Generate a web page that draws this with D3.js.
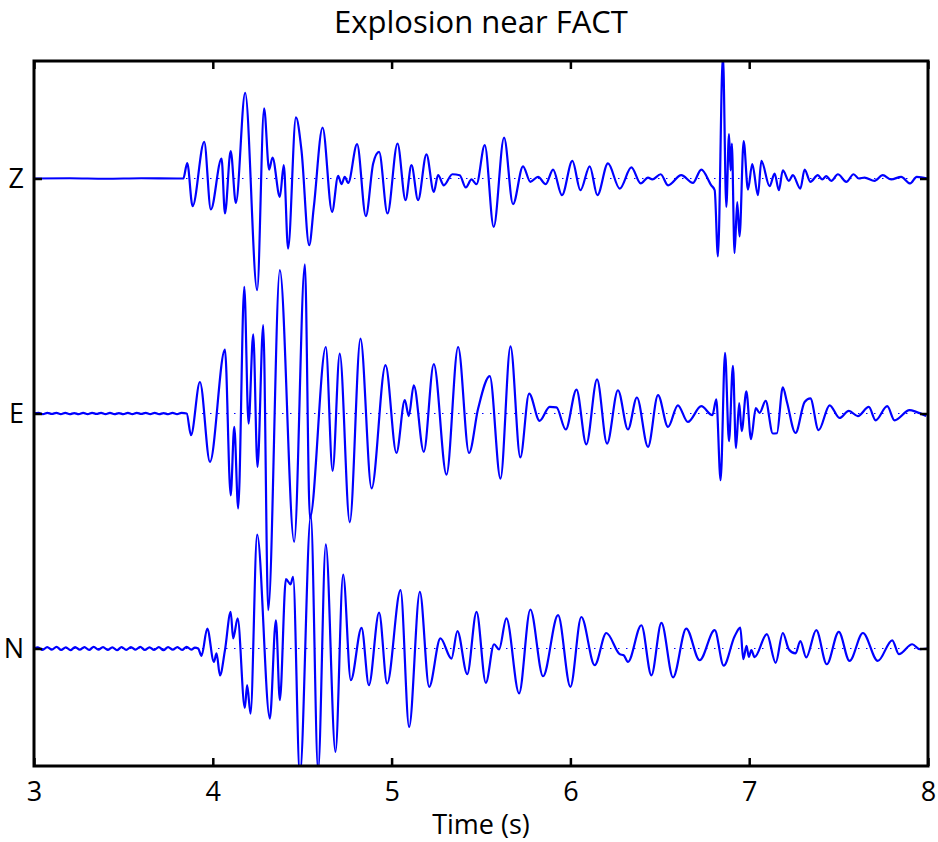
<!DOCTYPE html>
<html>
<head>
<meta charset="utf-8">
<script src="https://cdn.jsdelivr.net/npm/d3@7"></script>
<style>
  body { margin: 0; background: #fff; }
  svg { display: block; font-family: "Open Sans", sans-serif; }
</style>
</head>
<body>
<svg id="chart" width="938" height="842"></svg>
<script>
// channels, top to bottom, and where their zero lines sit
const channels = ["Z", "E", "N"];
const channelOffsets = [200, 100, 0];
const timeTicks = [3, 4, 5, 6, 7, 8];

// traces: [time (s), amplitude] (1 unit = 1/100 of trace spacing)
const zTrace = [[3.000,0],[3.200,0.1],[3.400,-0.1],[3.600,0.1],[3.800,0],[3.835,0],[3.857,6.6],[3.887,-11.8],[3.952,15.6],[3.989,-13.2],[4.049,8.5],[4.068,-14.9],[4.100,11.7],[4.129,-10.4],[4.181,36.4],[4.248,-47.5],[4.287,29.8],[4.315,3.8],[4.334,8.9],[4.375,-7.8],[4.397,5.7],[4.421,-29.8],[4.465,26.0],[4.496,12.0],[4.539,-28.4],[4.565,-12.1],[4.614,21.7],[4.667,-14.2],[4.701,1.1],[4.720,-2.4],[4.738,0.7],[4.757,-1.9],[4.807,14.6],[4.856,-16.0],[4.897,6.4],[4.930,11.3],[4.977,-14.9],[5.033,14.9],[5.078,-9.2],[5.111,5.7],[5.148,-9.2],[5.195,10.3],[5.236,-5.7],[5.260,1.4],[5.292,-2.9],[5.340,1.8],[5.381,1.4],[5.415,-3.8],[5.447,-0.4],[5.475,-2.4],[5.521,14.2],[5.571,-20.6],[5.629,17.4],[5.679,-10.9],[5.735,5.2],[5.776,-1.4],[5.819,0.7],[5.862,-2.4],[5.903,3.8],[5.953,-7.1],[6.011,7.5],[6.056,-5.0],[6.108,5.2],[6.151,-7.1],[6.210,6.4],[6.276,-4.3],[6.341,4.7],[6.393,-2.1],[6.434,0.4],[6.458,-0.4],[6.505,1.8],[6.546,-2.9],[6.620,1.4],[6.685,-1.9],[6.732,3.8],[6.788,-2.9],[6.807,-5.0],[6.825,-33.1],[6.853,52.5],[6.872,-12.1],[6.887,18.9],[6.896,3.5],[6.903,14.9],[6.918,-31.7],[6.933,-10.0],[6.946,-24.6],[6.969,15.9],[6.993,-4.7],[7.017,6.1],[7.049,-7.1],[7.068,7.5],[7.114,-3.3],[7.142,2.1],[7.166,-5.0],[7.188,3.5],[7.222,-1.0],[7.244,1.4],[7.286,-4.3],[7.310,3.8],[7.342,-1.4],[7.384,1.4],[7.409,-0.4],[7.431,1.0],[7.459,-1.0],[7.496,1.8],[7.543,-1.4],[7.584,1.8],[7.613,0],[7.645,0.4],[7.701,-1.0],[7.747,1.4],[7.794,-0.4],[7.850,0.7],[7.900,-2.1],[7.937,0.7],[7.997,0]];

const eTrace = [[3.000,0],[3.025,0.3],[3.050,-0.3],[3.075,0.3],[3.100,-0.2],[3.125,0.3],[3.150,-0.3],[3.175,0.3],[3.200,-0.3],[3.225,0.2],[3.250,-0.3],[3.275,0.3],[3.300,-0.3],[3.325,0.3],[3.350,-0.2],[3.375,0.3],[3.400,-0.3],[3.425,0.3],[3.450,-0.3],[3.475,0.2],[3.500,-0.3],[3.525,0.3],[3.550,-0.3],[3.575,0.3],[3.600,-0.2],[3.625,0.3],[3.650,-0.3],[3.675,0.3],[3.700,-0.3],[3.725,0.2],[3.750,-0.3],[3.775,0.3],[3.800,-0.3],[3.825,0.3],[3.854,0],[3.878,-9.2],[3.928,13.4],[3.984,-20.6],[4.068,27.2],[4.100,-34.8],[4.120,-5.7],[4.142,-40.4],[4.176,53.9],[4.200,-4.3],[4.226,33.7],[4.250,-22.7],[4.282,37.6],[4.310,-83.7],[4.375,61.0],[4.455,-54.6],[4.515,63.5],[4.543,-44.6],[4.632,28.3],[4.670,-24.4],[4.710,25.5],[4.766,-46.3],[4.826,31.9],[4.888,-31.9],[4.966,20.6],[5.027,-16.8],[5.074,5.7],[5.096,-1.1],[5.124,12.0],[5.180,-16.3],[5.236,21.0],[5.307,-26.0],[5.372,28.3],[5.433,-16.8],[5.484,2.1],[5.549,15.9],[5.609,-27.7],[5.665,28.6],[5.720,-18.7],[5.769,8.5],[5.828,-3.1],[5.884,2.8],[5.922,2.6],[5.974,-6.8],[6.034,10.2],[6.089,-13.1],[6.149,14.5],[6.205,-12.8],[6.266,9.9],[6.322,-6.8],[6.372,6.8],[6.434,-14.2],[6.490,7.8],[6.546,-5.7],[6.601,3.5],[6.657,-3.6],[6.732,3.1],[6.794,-0.7],[6.816,6.0],[6.840,-28.4],[6.865,25.8],[6.887,-11.8],[6.909,20.3],[6.926,-14.7],[6.944,4.4],[6.958,-7.5],[6.984,9.4],[7.010,-10.9],[7.037,2.3],[7.058,0.3],[7.092,5.4],[7.132,-8.5],[7.155,-8.4],[7.188,11.1],[7.211,4.9],[7.259,-8.3],[7.310,4.9],[7.342,6.4],[7.388,-7.1],[7.450,3.5],[7.505,-1.9],[7.557,1.1],[7.608,-1.1],[7.669,2.8],[7.707,-2.9],[7.772,3.1],[7.813,-2.9],[7.897,1.4],[7.934,0.7],[7.990,-1.1]];

const nTrace = [[3.000,0],[3.022,0.5],[3.048,-0.6],[3.074,0.6],[3.100,-0.5],[3.126,0.7],[3.152,-0.6],[3.178,0.5],[3.204,-0.7],[3.230,0.6],[3.256,-0.5],[3.282,0.6],[3.308,-0.6],[3.334,0.7],[3.360,-0.5],[3.386,0.6],[3.412,-0.6],[3.438,0.5],[3.464,-0.7],[3.490,0.6],[3.516,-0.6],[3.542,0.6],[3.568,-0.5],[3.594,0.7],[3.620,-0.6],[3.646,0.5],[3.672,-0.6],[3.698,0.6],[3.724,-0.7],[3.750,0.6],[3.776,-0.5],[3.802,0.6],[3.828,-0.6],[3.854,0.7],[3.880,-0.5],[3.900,0.4],[3.918,0],[3.937,-3.1],[3.969,8.5],[4.006,-5.7],[4.021,-2.1],[4.040,-11.4],[4.068,-0.7],[4.100,15.6],[4.114,4.3],[4.139,12.8],[4.179,-25.3],[4.192,-15.6],[4.211,-27.7],[4.248,48.5],[4.319,-29.8],[4.353,12.0],[4.375,-22.0],[4.409,29.5],[4.435,27.3],[4.449,30.5],[4.487,-53.9],[4.548,56.7],[4.589,-51.8],[4.632,44.3],[4.686,-44.0],[4.729,31.5],[4.772,-13.5],[4.832,8.8],[4.873,-15.6],[4.930,15.3],[4.975,-14.9],[5.050,24.8],[5.098,-33.4],[5.158,24.1],[5.210,-16.3],[5.273,4.3],[5.335,-4.3],[5.368,7.4],[5.423,-10.9],[5.475,15.6],[5.527,-14.6],[5.573,1.8],[5.601,-0.4],[5.642,12.8],[5.713,-19.1],[5.776,16.6],[5.847,-11.8],[5.931,14.2],[6.000,-16.3],[6.061,13.4],[6.136,-7.1],[6.201,6.6],[6.276,-2.4],[6.298,-2.9],[6.322,-5.7],[6.397,9.9],[6.453,-11.4],[6.509,10.9],[6.574,-12.3],[6.648,8.5],[6.723,-5.0],[6.807,7.8],[6.857,-7.3],[6.918,5.1],[6.950,8.9],[6.967,-4.5],[6.985,1.1],[6.998,-3.6],[7.012,-0.7],[7.030,-3.7],[7.099,6.1],[7.148,-6.1],[7.188,6.6],[7.222,-0.4],[7.259,-2.1],[7.286,3.2],[7.319,-3.8],[7.375,7.8],[7.434,-6.7],[7.501,7.1],[7.561,-5.3],[7.636,6.6],[7.719,-5.3],[7.800,3.5],[7.837,-2.4],[7.912,1.8],[7.953,-0.3],[7.997,0]];

const traces = [zTrace, eTrace, nTrace];

// layout
const width = 938, height = 842;
const margin = { top: 61, right: 10, bottom: 76, left: 34 };
const innerW = width - margin.left - margin.right;
const innerH = height - margin.top - margin.bottom;

const svg = d3.select("#chart");
const g = svg.append("g").attr("transform", "translate(" + margin.left + "," + margin.top + ")");

const x = d3.scaleLinear().domain([3, 8]).range([0, innerW]);
const y = d3.scaleLinear().domain([-50, 250]).range([innerH, 0]);

g.append("clipPath").attr("id", "plotClip")
  .append("rect").attr("width", innerW).attr("height", innerH);

// dotted zero lines
g.selectAll(".zero")
  .data(channelOffsets)
  .enter().append("line")
  .attr("class", "zero")
  .attr("x1", 0).attr("x2", innerW)
  .attr("y1", d => y(d)).attr("y2", d => y(d))
  .attr("stroke", "#0000ff")
  .attr("stroke-width", 1.2)
  .attr("stroke-dasharray", "1.5,6.5");

// traces
const plot = g.append("g").attr("clip-path", "url(#plotClip)");
traces.forEach((tr, i) => {
  const line = d3.line()
    .x(d => x(d[0]))
    .y(d => y(d[1] + channelOffsets[i]))
    .curve(d3.curveMonotoneX);
  plot.append("path")
    .datum(tr)
    .attr("d", line)
    .attr("fill", "none")
    .attr("stroke", "#0000ff")
    .attr("stroke-width", 2.2)
    .attr("stroke-linejoin", "round");
});

// axes: inward ticks on all four sides
const tickLen = 8;
const xBottom = d3.axisBottom(x).tickValues(timeTicks).tickSizeInner(-tickLen).tickSizeOuter(0).tickPadding(16).tickFormat(d3.format("d"));
const xTop = d3.axisTop(x).tickValues(timeTicks).tickSizeInner(-tickLen).tickSizeOuter(0).tickFormat("");
const yLeft = d3.axisLeft(y).tickValues(channelOffsets).tickSizeInner(-tickLen).tickSizeOuter(0).tickPadding(10).tickFormat((d, i) => channels[i]);
const yRight = d3.axisRight(y).tickValues(channelOffsets).tickSizeInner(-tickLen).tickSizeOuter(0).tickFormat("");

const axes = [
  g.append("g").attr("transform", "translate(0," + innerH + ")").call(xBottom),
  g.append("g").call(xTop),
  g.append("g").call(yLeft),
  g.append("g").attr("transform", "translate(" + innerW + ",0)").call(yRight)
];
axes.forEach(a => {
  a.select(".domain").remove();
  a.selectAll(".tick line").attr("stroke", "#000").attr("stroke-width", 2.5);
  a.selectAll(".tick text").attr("font-family", "Open Sans").attr("font-size", 27).attr("fill", "#000");
});

// frame
g.append("rect")
  .attr("width", innerW).attr("height", innerH)
  .attr("fill", "none").attr("stroke", "#000").attr("stroke-width", 3);

// title and label
svg.append("text")
  .attr("x", margin.left + innerW / 2).attr("y", 33)
  .attr("text-anchor", "middle")
  .attr("font-size", 31)
  .attr("fill", "#000")
  .text("Explosion near FACT");

svg.append("text")
  .attr("x", margin.left + innerW / 2).attr("y", 834)
  .attr("text-anchor", "middle")
  .attr("font-size", 27)
  .attr("fill", "#000")
  .text("Time (s)");
</script>
</body>
</html>
